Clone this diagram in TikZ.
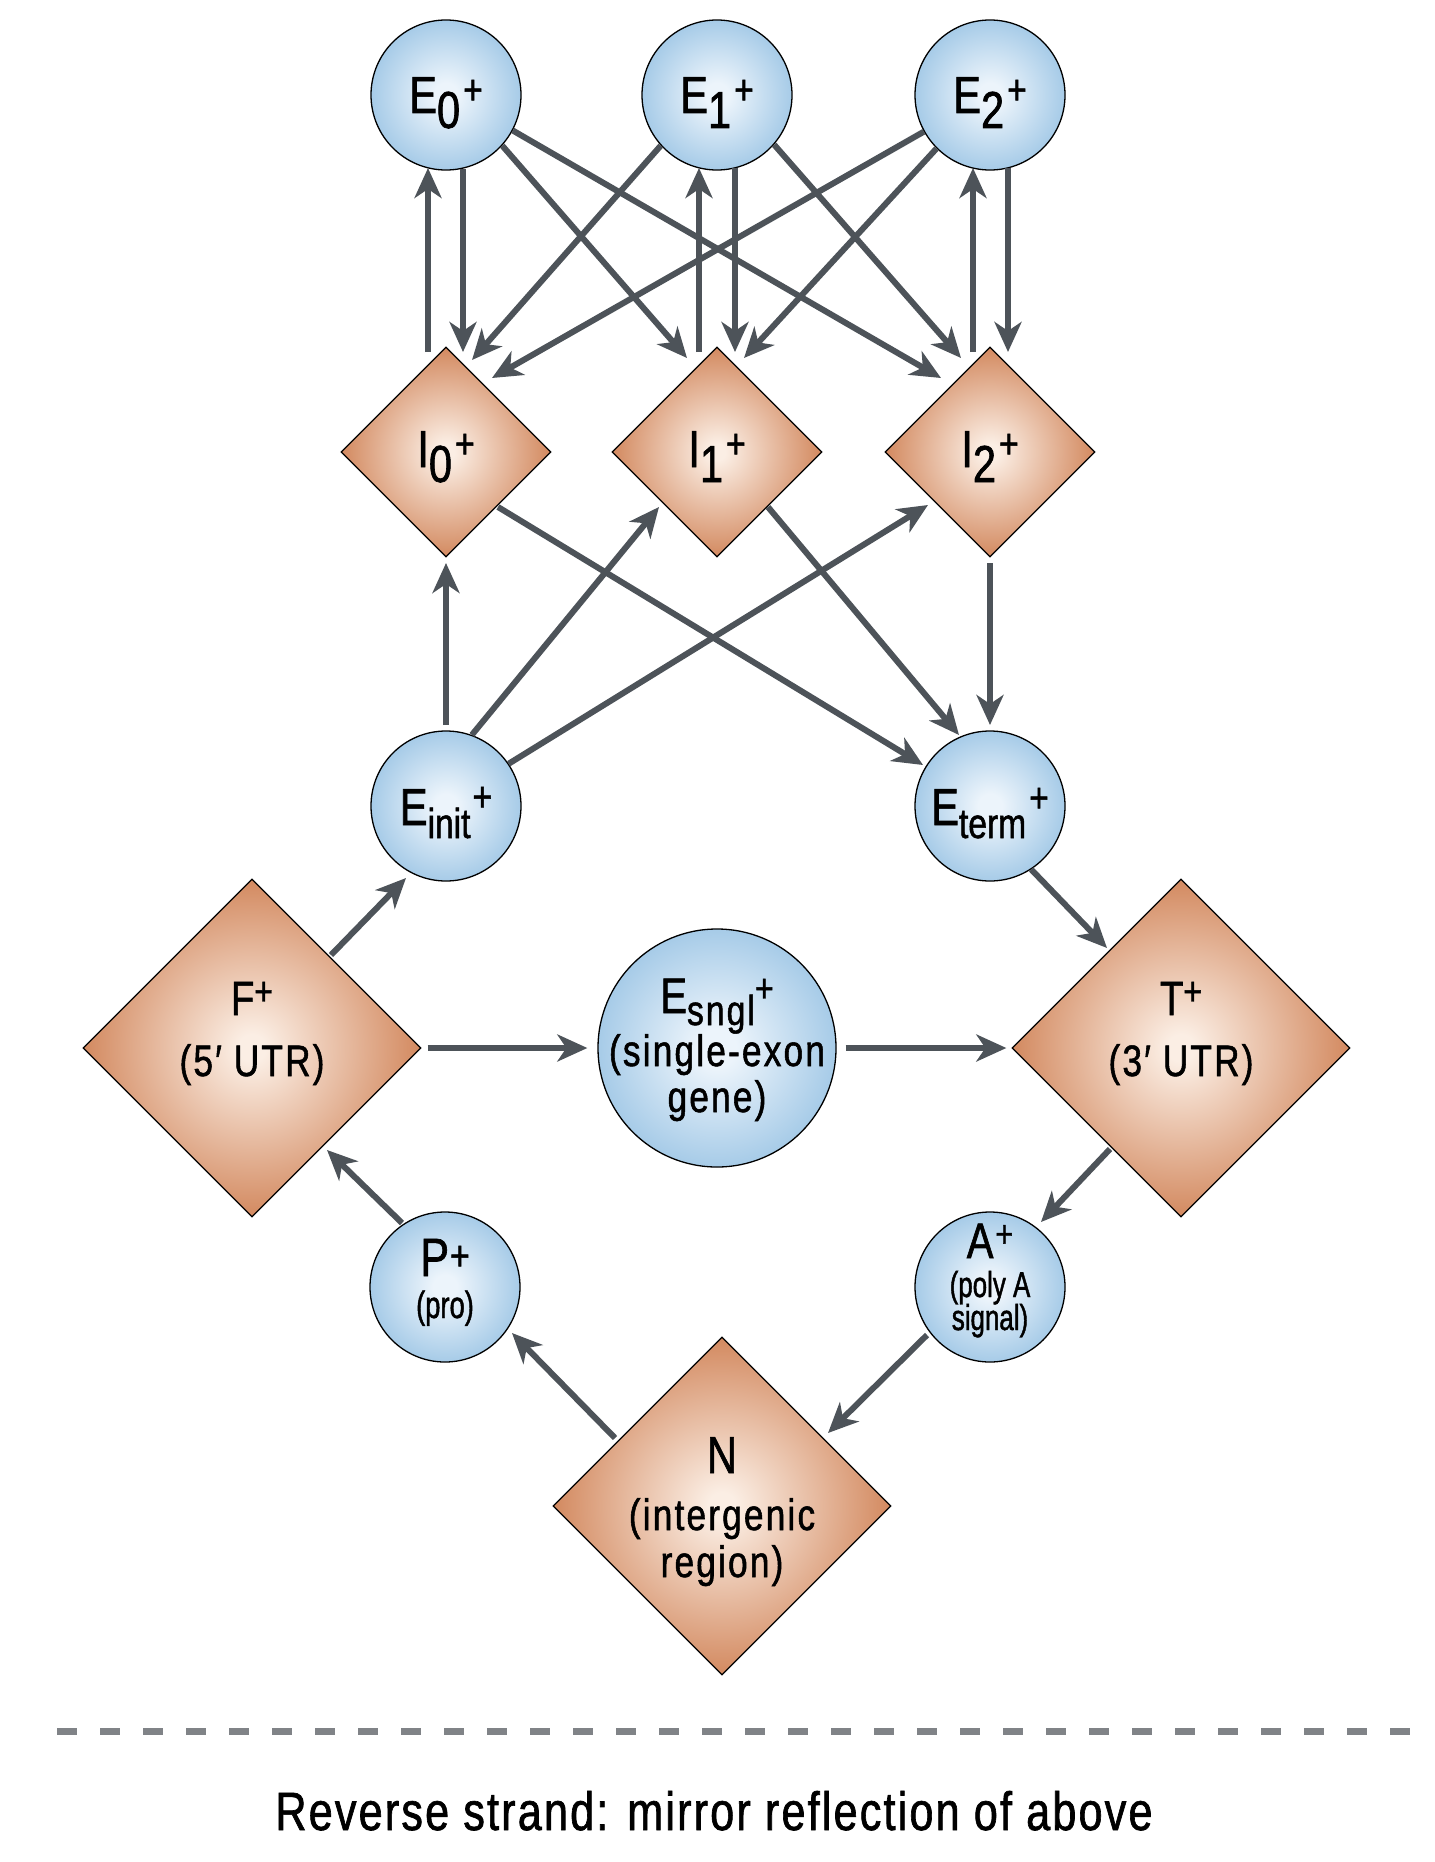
\documentclass[tikz,border=0pt]{standalone}
\usepackage{fontspec}
\setmainfont{Liberation Sans}[FakeStretch=0.8,FakeBold=1.2]
\newfontfamily\trackfont{Liberation Sans}[FakeStretch=0.8,FakeBold=1.2,LetterSpace=5]
\newfontfamily\tightfont{Liberation Sans}[FakeStretch=0.72,FakeBold=1.2]
\newfontfamily\notefont{Liberation Sans}[FakeStretch=0.8,FakeBold=1.2,LetterSpace=4]
\usetikzlibrary{shapes.geometric,arrows.meta,calc}

\definecolor{bluein}{RGB}{236,244,251}
\definecolor{blueout}{RGB}{110,170,216}
\definecolor{orin}{RGB}{251,238,228}
\definecolor{orout}{RGB}{209,133,90}
\definecolor{arrowgray}{RGB}{77,83,89}
\definecolor{dashgray}{RGB}{128,131,135}

\pgfdeclareradialshading{bubble}{\pgfpoint{0bp}{0bp}}{color(0bp)=(bluein); color(4bp)=(bluein); color(42bp)=(blueout); color(50bp)=(blueout)}
\pgfdeclareradialshading{gem}{\pgfpoint{0bp}{0bp}}{color(0bp)=(orin); color(2bp)=(orin); color(26bp)=(orout); color(50bp)=(orout)}

% lowered subscript and raised plus sign
\newcommand\dn[2][15pt]{\raisebox{-#1}{#2}}
\newcommand\pl[2][8pt]{\raisebox{#1}{\fontsize{#2}{#2}\selectfont +}}
\newcommand\fs[1]{\fontsize{#1}{#1}\selectfont}

\begin{document}
\begin{tikzpicture}[x=1pt,y=-1pt,
  exon/.style={circle,draw=black,line width=1.3pt,shading=bubble,minimum size=#1,inner sep=0pt},
  exon/.default=150,
  intron/.style={diamond,aspect=1,draw=black,line width=1.3pt,shading=gem,minimum width=#1,minimum height=#1,inner sep=0pt},
  intron/.default=210,
  lbl/.style={inner sep=0pt,anchor=base,text=black},
  conn/.style={draw=arrowgray,line width=6pt,-{Stealth[length=30pt,width=27pt,inset=9pt]}}
]
\useasboundingbox (0,0) rectangle (1434,1862);

% states
\node[exon]  (E0) at (446,95) {};
\node[exon]  (E1) at (717,95) {};
\node[exon]  (E2) at (990,95) {};
\node[intron] (I0) at (446,452) {};
\node[intron] (I1) at (717,452) {};
\node[intron] (I2) at (990,452) {};
\node[exon]  (Einit) at (446,806) {};
\node[exon]  (Eterm) at (990,806) {};
\node[intron=338] (F) at (252,1048) {};
\node[exon=238] (Esngl) at (717,1048) {};
\node[intron=338] (T) at (1181,1048) {};
\node[exon]  (P) at (445,1287) {};
\node[exon]  (A) at (990,1287) {};
\node[intron=338] (N) at (722,1506) {};

% state labels
\node[lbl] (E0t) at ($(E0)+(0,18)$) {\fs{52}E\dn{0}\kern3pt\pl[9pt]{42}};
\node[lbl] (E1t) at ($(E1)+(0,18)$) {\fs{52}E\dn{1}\kern3pt\pl[9pt]{42}};
\node[lbl] (E2t) at ($(E2)+(0,18)$) {\fs{52}E\dn{2}\kern3pt\pl[9pt]{42}};
\node[lbl] (I0t) at ($(I0)+(0,15)$) {\fs{52}I\dn{0}\kern3pt\pl[9pt]{42}};
\node[lbl] (I1t) at ($(I1)+(0,15)$) {\fs{52}I\dn{1}\kern3pt\pl[9pt]{42}};
\node[lbl] (I2t) at ($(I2)+(0,15)$) {\fs{52}I\dn{2}\kern3pt\pl[9pt]{42}};
\node[lbl] (Einitt) at ($(Einit)+(0,19)$) {\fs{52}E\dn[13pt]{\fs{42}init}\kern2pt\pl[14pt]{42}};
\node[lbl] (Etermt) at ($(Eterm)+(0,19)$) {\fs{52}E\dn[13pt]{\fs{42}term}\kern3pt\pl[13pt]{42}};
\node[lbl] (Ft1) at ($(F)+(0,-33)$) {\fs{48}F\pl[10pt]{40}};
\node[lbl] (Ft2) at ($(F)+(0,28)$) {\fs{44}\trackfont(5′ UTR)};
\node[lbl] (Tt1) at ($(T)+(0,-33)$) {\fs{48}T\pl[10pt]{40}};
\node[lbl] (Tt2) at ($(T)+(0,28)$) {\fs{44}\trackfont(3′ UTR)};
\node[lbl] (Et1) at ($(Esngl)+(0,-35)$) {\fs{50}E\dn[12pt]{\fs{42}\trackfont sngl}\pl[11pt]{40}};
\node[lbl] (Et2) at ($(Esngl)+(0,18)$) {\fs{44}\trackfont(single-exon};
\node[lbl] (Et3) at ($(Esngl)+(0,64)$) {\fs{44}\trackfont gene)};
\node[lbl] (Pt1) at ($(P)+(0,-11)$) {\fs{54}P\kern1pt\pl[6pt]{42}};
\node[lbl] (Pt2) at ($(P)+(0,31)$) {\fs{38}\tightfont(pro)};
\node[lbl] (At1) at ($(A)+(0,-29)$) {\fs{50}A\kern2pt\pl[11pt]{38}};
\node[lbl] (At2) at ($(A)+(0,10)$) {\fs{36}\tightfont(poly A};
\node[lbl] (At3) at ($(A)+(0,43)$) {\fs{36}\tightfont signal)};
\node[lbl] (Nt1) at ($(N)+(0,-33)$) {\fs{52}N};
\node[lbl] (Nt2) at ($(N)+(0,24)$) {\fs{44}\trackfont(intergenic};
\node[lbl] (Nt3) at ($(N)+(0,71)$) {\fs{44}\trackfont region)};

% exon <-> intron transitions
\draw[conn] ($(I0)+(-18,-100)$) -- ($(E0)+(-18,73)$);
\draw[conn] ($(E0)+(17,74)$) -- ($(I0)+(17,-100)$);
\draw[conn] ($(I1)+(-18,-100)$) -- ($(E1)+(-18,73)$);
\draw[conn] ($(E1)+(18,73)$) -- ($(I1)+(18,-100)$);
\draw[conn] ($(I2)+(-17,-100)$) -- ($(E2)+(-17,73)$);
\draw[conn] ($(E2)+(18,73)$) -- ($(I2)+(18,-100)$);
\draw[conn] (E0.-42) -- ($(I1)+(-30,-94)$);
\draw[conn] (E0.-28) -- ($(I2)+(-49,-74)$);
\draw[conn] (E1.-138) -- ($(I0)+(26,-92)$);
\draw[conn] (E1.-41) -- ($(I2)+(-29,-94)$);
\draw[conn] (E2.-151) -- ($(I0)+(46,-74)$);
\draw[conn] (E2.-135) -- ($(I1)+(27,-94)$);

% initial and terminal exons
\draw[conn] ($(Einit)+(0,-81)$) -- ($(I0)+(0,111)$);
\draw[conn] (Einit.70) -- ($(I1)+(-58,55)$);
\draw[conn] (Einit.34) -- ($(I2)+(-62,53)$);
\draw[conn] ($(I0)+(52,55)$) -- ($(Eterm)+(-67,-41)$);
\draw[conn] ($(I1)+(51,55)$) -- ($(Eterm)+(-31,-71)$);
\draw[conn] ($(I2)+(0,111)$) -- ($(Eterm)+(0,-81)$);

% untranslated regions, single exon, promoter, poly A, intergenic
\draw[conn] ($(F)+(79,-93)$) -- ($(Einit)+(-40,72)$);
\draw[conn] (Eterm.-57) -- ($(T)+(-74,-100)$);
\draw[conn] ($(F.east)+(6,0)$) -- ($(Esngl.west)+(-10,0)$);
\draw[conn] ($(Esngl.east)+(9,0)$) -- ($(T.west)+(-5,0)$);
\draw[conn] ($(T)+(-71,101)$) -- ($(A)+(51,-65)$);
\draw[conn] ($(A)+(-63,48)$) -- ($(N)+(106,-73)$);
\draw[conn] ($(N)+(-107,-68)$) -- ($(P)+(67,46)$);
\draw[conn] ($(P)+(-43,-64)$) -- ($(F)+(75,102)$);

% separator and caption
\coordinate (sepL) at (57,1731);
\coordinate (sepR) at (1410,1731);
\draw[dashgray,line width=7pt,dash pattern=on 20pt off 23pt] (sepL) -- (sepR);
\node[lbl] (rev) at (714,1830) {\fs{54}\notefont Reverse strand: mirror reflection of above};
\end{tikzpicture}
\end{document}
